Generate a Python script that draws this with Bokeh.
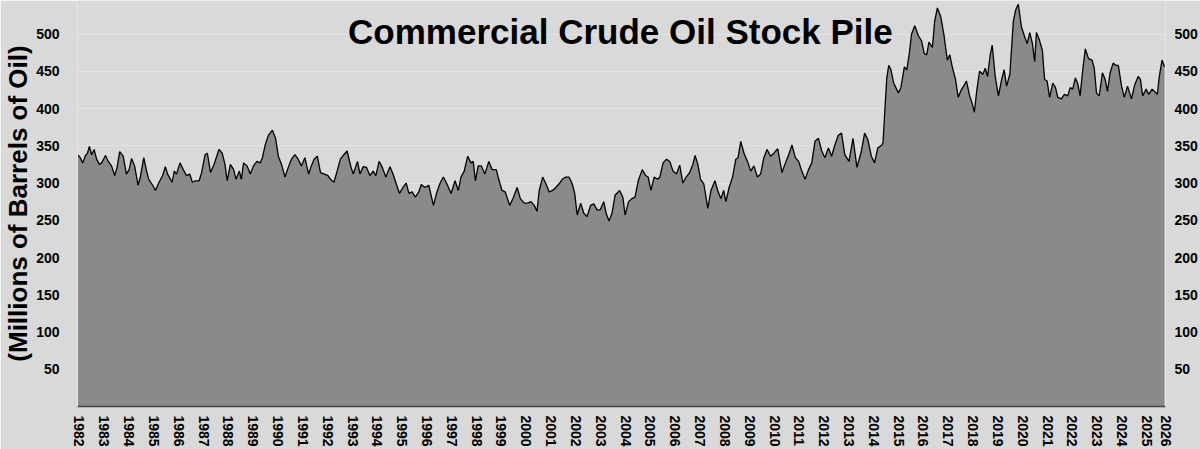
from bokeh.plotting import figure
from bokeh.models import FixedTicker, LinearAxis, Label, Range1d
from bokeh.embed import file_html
from bokeh.resources import INLINE

# Decimal year of each reading
years = [
    1981.92, 1982.03, 1982.13, 1982.23, 1982.32, 1982.40, 1982.49, 1982.59, 1982.69, 1982.80,
    1982.89, 1983.05, 1983.16, 1983.29, 1983.42, 1983.52, 1983.62, 1983.76, 1983.89, 1984.00,
    1984.10, 1984.22, 1984.36, 1984.45, 1984.59, 1984.69, 1984.79, 1984.95, 1985.06, 1985.19,
    1985.35, 1985.46, 1985.55, 1985.73, 1985.82, 1985.91, 1986.05, 1986.18, 1986.31, 1986.44,
    1986.55, 1986.68, 1986.82, 1986.92, 1987.06, 1987.15, 1987.28, 1987.42, 1987.62, 1987.75,
    1987.86, 1987.95, 1988.08, 1988.21, 1988.31, 1988.44, 1988.52, 1988.61, 1988.75, 1988.88,
    1989.01, 1989.15, 1989.28, 1989.37, 1989.48, 1989.61, 1989.77, 1989.90, 1990.01, 1990.14,
    1990.28, 1990.41, 1990.54, 1990.68, 1990.81, 1990.94, 1991.08, 1991.23, 1991.34, 1991.45,
    1991.58, 1991.71, 1991.87, 1992.01, 1992.11, 1992.25, 1992.38, 1992.51, 1992.65, 1992.78,
    1992.94, 1993.03, 1993.20, 1993.30, 1993.43, 1993.56, 1993.70, 1993.83, 1993.94, 1994.07,
    1994.20, 1994.34, 1994.51, 1994.63, 1994.76, 1994.89, 1995.03, 1995.16, 1995.27, 1995.40,
    1995.53, 1995.67, 1995.77, 1995.91, 1996.07, 1996.26, 1996.40, 1996.53, 1996.66, 1996.80,
    1996.97, 1997.13, 1997.26, 1997.37, 1997.50, 1997.64, 1997.77, 1997.86, 1997.95, 1998.06,
    1998.19, 1998.33, 1998.49, 1998.62, 1998.79, 1998.89, 1999.02, 1999.15, 1999.33, 1999.46,
    1999.63, 1999.76, 1999.92, 2000.06, 2000.19, 2000.32, 2000.43, 2000.52, 2000.66, 2000.79,
    2000.92, 2001.06, 2001.19, 2001.32, 2001.45, 2001.59, 2001.72, 2001.85, 2001.95, 2002.05,
    2002.19, 2002.32, 2002.45, 2002.59, 2002.72, 2002.85, 2002.98, 2003.12, 2003.22, 2003.33,
    2003.45, 2003.58, 2003.76, 2003.89, 2003.98, 2004.12, 2004.25, 2004.38, 2004.51, 2004.67,
    2004.81, 2004.91, 2005.02, 2005.15, 2005.29, 2005.38, 2005.51, 2005.65, 2005.78, 2005.91,
    2006.05, 2006.18, 2006.31, 2006.44, 2006.58, 2006.71, 2006.80, 2006.91, 2007.02, 2007.15,
    2007.31, 2007.44, 2007.60, 2007.71, 2007.84, 2007.95, 2008.04, 2008.17, 2008.31, 2008.44,
    2008.53, 2008.64, 2008.77, 2008.91, 2009.04, 2009.17, 2009.31, 2009.44, 2009.57, 2009.70,
    2009.84, 2009.97, 2010.13, 2010.30, 2010.44, 2010.57, 2010.70, 2010.84, 2010.97, 2011.10,
    2011.23, 2011.37, 2011.50, 2011.63, 2011.77, 2011.90, 2012.03, 2012.17, 2012.30, 2012.43,
    2012.57, 2012.70, 2012.83, 2013.00, 2013.16, 2013.32, 2013.50, 2013.63, 2013.76, 2013.90,
    2014.03, 2014.16, 2014.32, 2014.37, 2014.44, 2014.52, 2014.60, 2014.69, 2014.80, 2014.89,
    2014.99, 2015.09, 2015.23, 2015.33, 2015.43, 2015.52, 2015.65, 2015.79, 2015.92, 2016.03,
    2016.13, 2016.22, 2016.36, 2016.45, 2016.56, 2016.69, 2016.82, 2016.96, 2017.06, 2017.16,
    2017.29, 2017.40, 2017.52, 2017.62, 2017.73, 2017.86, 2017.95, 2018.05, 2018.15, 2018.26,
    2018.39, 2018.49, 2018.58, 2018.69, 2018.77, 2018.89, 2019.02, 2019.15, 2019.25, 2019.35,
    2019.48, 2019.62, 2019.72, 2019.82, 2019.95, 2020.08, 2020.18, 2020.28, 2020.39, 2020.48,
    2020.55, 2020.66, 2020.79, 2020.88, 2020.98, 2021.08, 2021.21, 2021.32, 2021.41, 2021.55,
    2021.68, 2021.81, 2021.91, 2022.01, 2022.12, 2022.21, 2022.31, 2022.41, 2022.52, 2022.65,
    2022.79, 2022.88, 2022.97, 2023.08, 2023.21, 2023.32, 2023.41, 2023.52, 2023.64, 2023.74,
    2023.85, 2023.98, 2024.09, 2024.22, 2024.38, 2024.51, 2024.65, 2024.74, 2024.83, 2024.97,
    2025.07, 2025.21, 2025.31, 2025.42, 2025.50, 2025.61, 2025.71,
]

# Commercial crude oil stocks, millions of barrels
stocks = [
    338, 334, 327, 336, 340, 349, 338, 345, 332, 325,
    327, 337, 329, 323, 310, 322, 342, 336, 312, 318,
    333, 323, 297, 308, 334, 318, 305, 297, 290, 300,
    310, 322, 312, 301, 316, 312, 327, 318, 310, 312,
    301, 303, 303, 314, 338, 340, 314, 325, 345, 340,
    325, 303, 325, 318, 305, 316, 305, 327, 323, 312,
    323, 329, 327, 334, 351, 364, 371, 360, 336, 325,
    308, 321, 332, 338, 332, 323, 334, 312, 323, 332,
    336, 314, 312, 310, 305, 301, 316, 332, 338, 343,
    321, 312, 329, 312, 322, 321, 310, 316, 310, 329,
    321, 308, 322, 312, 299, 286, 294, 300, 286, 288,
    281, 288, 298, 294, 297, 270, 288, 300, 308, 299,
    286, 303, 290, 308, 316, 336, 327, 329, 303, 323,
    323, 312, 329, 318, 318, 305, 290, 288, 270, 279,
    294, 279, 273, 273, 275, 270, 262, 290, 308, 299,
    288, 290, 294, 299, 305, 308, 308, 299, 286, 257,
    273, 259, 255, 270, 272, 264, 264, 275, 259, 249,
    259, 284, 290, 281, 257, 275, 279, 281, 303, 318,
    310, 308, 290, 308, 305, 308, 327, 332, 329, 316,
    312, 324, 300, 308, 314, 325, 337, 325, 305, 299,
    266, 290, 303, 290, 279, 290, 275, 294, 308, 332,
    334, 356, 340, 329, 316, 323, 308, 312, 334, 345,
    336, 340, 346, 314, 327, 338, 351, 334, 329, 316,
    305, 318, 327, 356, 360, 343, 334, 347, 336, 351,
    364, 367, 338, 329, 360, 321, 343, 367, 358, 336,
    327, 347, 351, 354, 395, 440, 458, 452, 434, 428,
    421, 428, 456, 452, 474, 500, 511, 498, 491, 474,
    472, 489, 482, 517, 535, 524, 500, 465, 472, 456,
    439, 415, 425, 430, 437, 417, 408, 395, 425, 450,
    446, 454, 443, 472, 485, 443, 417, 439, 452, 430,
    446, 517, 533, 540, 509, 496, 487, 502, 487, 463,
    502, 493, 478, 439, 437, 415, 434, 428, 415, 413,
    419, 417, 428, 426, 441, 434, 417, 450, 480, 467,
    465, 454, 421, 417, 448, 439, 423, 448, 461, 458,
    458, 430, 415, 430, 413, 432, 443, 439, 417, 426,
    419, 426, 423, 419, 443, 465, 456,
]

y_ticks = [50, 100, 150, 200, 250, 300, 350, 400, 450, 500]
x_tick_years = list(range(1982, 2026))
x_end = 2025.75
x_tick_labels = {x_end: "2026"}

title_text = "Commercial Crude Oil Stock Pile"
y_label = "(Millions of Barrels of Oil)"

FONT = "Liberation Sans"
BG = "#d9d9d9"

p = figure(width=1200, height=449, output_backend="svg", toolbar_location=None,
           x_range=Range1d(1981.92, x_end), y_range=Range1d(0, 545),
           min_border_left=74, min_border_right=29, min_border_top=0,
           min_border_bottom=35)
p.background_fill_color = BG
p.border_fill_color = BG
p.outline_line_color = None

p.varea(x=years, y1=0, y2=stocks, fill_color="#8a8a8a")
p.line(years, stocks, line_color="black", line_width=1.3)

p.xgrid.visible = False
p.ygrid.ticker = FixedTicker(ticks=y_ticks)
p.ygrid.grid_line_color = "#e4e4e4"
p.ygrid.grid_line_width = 1

ya = p.yaxis[0]
ya.ticker = FixedTicker(ticks=y_ticks)
ya.major_tick_line_color = None
ya.minor_tick_line_color = None
ya.axis_line_color = "#e6e6e6"
ya.major_label_text_font = FONT
ya.major_label_text_font_style = "bold"
ya.major_label_text_font_size = "14px"
ya.major_label_text_color = "black"
ya.major_label_standoff = 12
ya.axis_label = y_label
ya.axis_label_text_font = FONT
ya.axis_label_text_font_style = "bold"
ya.axis_label_text_font_size = "26px"
ya.axis_label_text_color = "black"
ya.axis_label_standoff = 0

ra = LinearAxis(ticker=FixedTicker(ticks=y_ticks))
ra.major_tick_line_color = None
ra.minor_tick_line_color = None
ra.axis_line_color = "#e6e6e6"
ra.major_label_text_font = FONT
ra.major_label_text_font_style = "bold"
ra.major_label_text_font_size = "14px"
ra.major_label_text_color = "black"
ra.major_label_standoff = 3
p.add_layout(ra, "right")

xa = p.xaxis[0]
xa.ticker = FixedTicker(ticks=x_tick_years + [x_end])
xa.major_label_overrides = x_tick_labels
xa.major_label_orientation = "vertical"
xa.major_tick_line_color = None
xa.minor_tick_line_color = None
xa.axis_line_color = "#444444"
xa.axis_line_width = 1.5
xa.major_label_text_font = FONT
xa.major_label_text_font_style = "bold"
xa.major_label_text_font_size = "14px"
xa.major_label_text_color = "black"
xa.major_label_standoff = 3

title = Label(x=2003.79, y=503, text=title_text, text_align="center",
              text_baseline="alphabetic", text_font=FONT, text_font_style="bold",
              text_font_size="35px", text_color="black")
p.add_layout(title)

open("out.html", "w").write(file_html(p, INLINE))
